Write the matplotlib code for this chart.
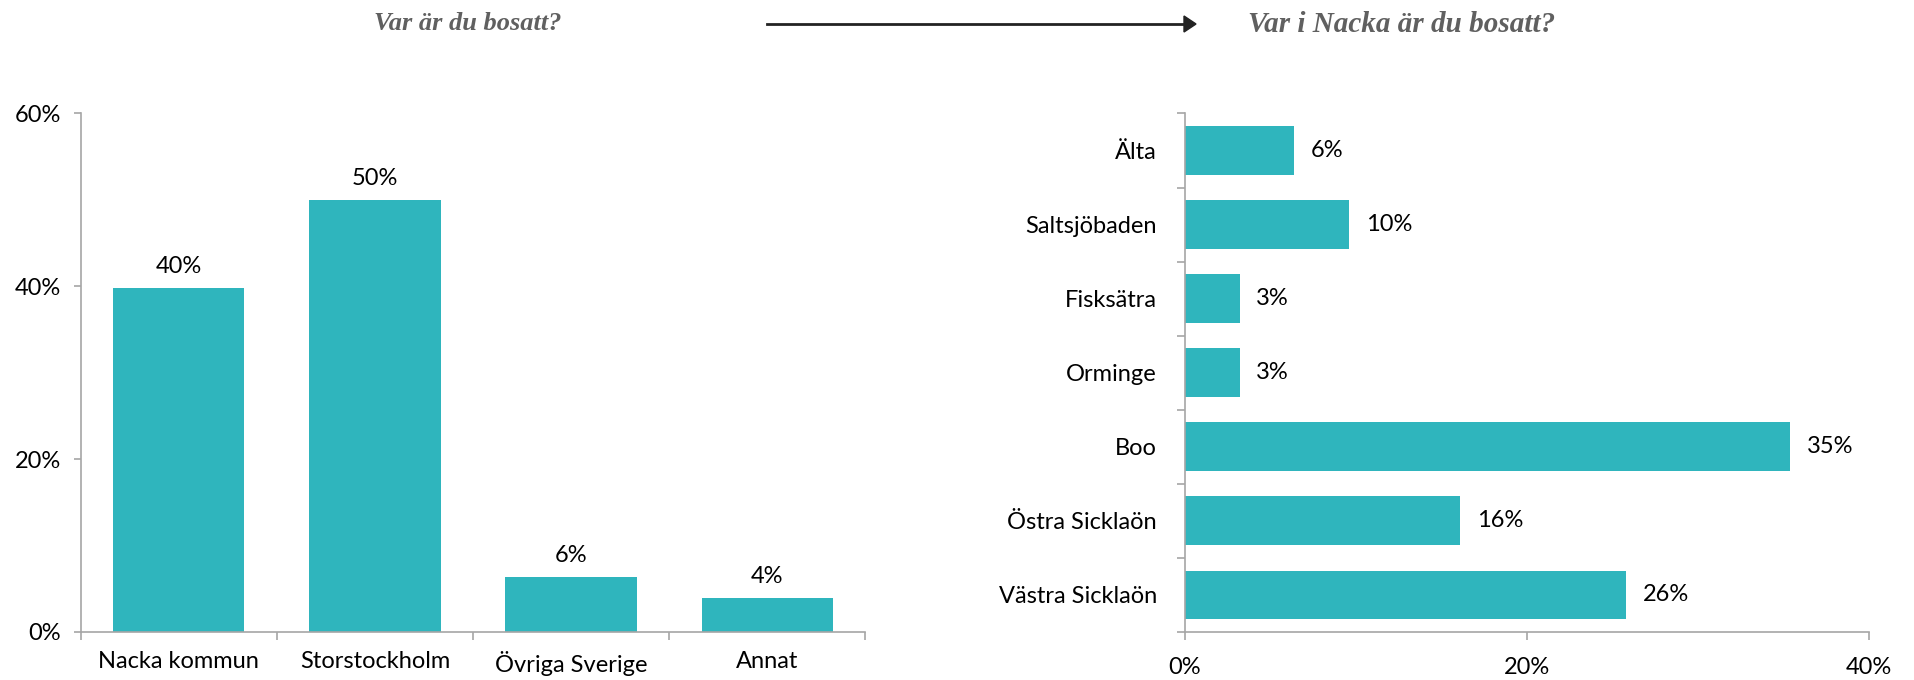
import numpy as np
from matplotlib import pyplot as plt

# left chart: Var är du bosatt?
bo_cats = ["Nacka kommun", "Storstockholm", "Övriga Sverige", "Annat"]
bo_vals = [39.8, 50.0, 6.4, 3.9]

# right chart: Var i Nacka är du bosatt?
nacka_cats = ["Älta", "Saltsjöbaden", "Fisksätra", "Orminge", "Boo", "Östra Sicklaön", "Västra Sicklaön"]
nacka_vals = [6.4, 9.6, 3.2, 3.2, 35.4, 16.1, 25.8]

bar_col = "#2FB5BD"
axis_col = "#A6A6A6"
plt.rcParams['font.family'] = ['Lato', 'DejaVu Sans']
fs = 17

fig = plt.figure(figsize=(19.14, 6.8), dpi=100)

# ---- left
ax1 = fig.add_axes([0.0421, 0.0706, 0.41, 0.7625])
x = np.arange(len(bo_cats))
ax1.bar(x, bo_vals, width=0.67, color=bar_col)
for xi, v in zip(x, bo_vals):
    ax1.annotate("%d%%" % round(v), (xi, v), xytext=(0, 8), textcoords="offset points",
                 ha="center", va="bottom", fontsize=fs)
ax1.set_xlim(-0.5, len(bo_cats) - 0.5)
ax1.set_ylim(0, 60)
ax1.set_yticks([0, 20, 40, 60])
ax1.set_yticklabels(["%d%%" % t for t in [0, 20, 40, 60]], fontsize=fs)
ax1.set_xticks(x)
ax1.set_xticklabels(bo_cats, fontsize=fs)
ax1.set_xticks(np.arange(-0.5, len(bo_cats)), minor=True)
ax1.tick_params(axis="x", which="major", length=0, pad=14)
ax1.tick_params(axis="x", which="minor", length=6, color=axis_col, width=1.2)
ax1.tick_params(axis="y", length=5, color=axis_col, width=1.2, pad=9)

# ---- right
ax2 = fig.add_axes([0.619, 0.0706, 0.3575, 0.7625])
y = np.arange(len(nacka_cats))
ax2.barh(y, nacka_vals, height=0.66, color=bar_col)
for yi, v in zip(y, nacka_vals):
    ax2.annotate("%d%%" % round(v), (v, yi), xytext=(12, 0), textcoords="offset points",
                 ha="left", va="center", fontsize=fs)
ax2.set_ylim(len(nacka_cats) - 0.5, -0.5)
ax2.set_xlim(0, 40)
ax2.set_xticks([0, 20, 40])
ax2.set_xticklabels(["%d%%" % t for t in [0, 20, 40]], fontsize=fs)
ax2.set_yticks(y)
ax2.set_yticklabels(nacka_cats, fontsize=fs)
ax2.set_yticks(np.arange(-0.5, len(nacka_cats)), minor=True)
ax2.tick_params(axis="y", which="major", length=0, pad=20)
ax2.tick_params(axis="y", which="minor", length=6, color=axis_col, width=1.2)
ax2.tick_params(axis="x", length=6, color=axis_col, width=1.2, pad=12)

for ax in (ax1, ax2):
    ax.spines["top"].set_visible(False)
    ax.spines["right"].set_visible(False)
    for s in ("left", "bottom"):
        ax.spines[s].set_color(axis_col)
        ax.spines[s].set_linewidth(1.2)

# titles and arrow
tkw = dict(fontweight="bold", fontstyle="italic", color="#606060",
           family="Liberation Serif", ha="center", va="center")
fig.text(468 / 1914, 1 - 24 / 680, "Var är du bosatt?", fontsize=19, **tkw)
fig.text(1402 / 1914, 1 - 24 / 680, "Var i Nacka är du bosatt?", fontsize=21, **tkw)
fig.add_artist(plt.Line2D([767 / 1914, 1186 / 1914], [1 - 24 / 680] * 2, color="#222222", lw=2))
fig.patches.append(plt.Polygon([[1184 / 1914, 1 - 16 / 680], [1196 / 1914, 1 - 24 / 680],
                                [1184 / 1914, 1 - 32 / 680]], closed=True, color="#222222",
                               transform=fig.transFigure, figure=fig))

fig.savefig("out.png", dpi=100)
